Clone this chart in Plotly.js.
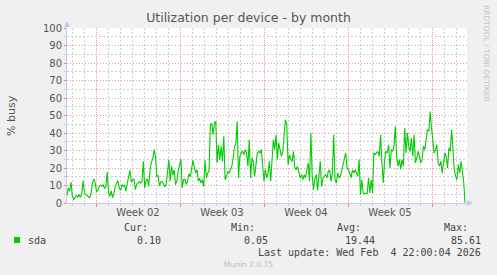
<!DOCTYPE html>
<html>
<head>
<meta charset="utf-8">
<script src="https://cdn.plot.ly/plotly-3.0.1.min.js"></script>
<style>
  html, body { margin: 0; padding: 0; background: #f0f0f0; }
  #chart { width: 497px; height: 275px; }
</style>
</head>
<body>
<div id="chart"></div>
<script>
// ---- data ----
const graphStart = '2026-01-02 14:00:00';
const graphEnd = '2026-02-04 22:00:00';
const stepHours = 796 / 297;
const busy = [
  4.2, 8.6, 6.7, 12.0, 3.8, 1.9, 3.2, 4.2, 3.4, 4.8, 3.2, 5.0, 12.8, 5.7, 4.8, 4.2, 3.6, 3.0, 5.7, 11.4,
  13.7, 11.8, 6.7, 7.2, 9.5, 10.1, 9.5, 10.5, 8.2, 9.5, 17.7, 6.1, 3.8, 7.0, 3.0, 5.3, 9.5, 11.4, 12.8, 8.6,
  7.2, 10.5, 9.5, 10.3, 6.7, 11.4, 15.2, 18.7, 11.8, 13.3, 13.7, 7.6, 10.7, 11.8, 12.2, 11.4, 12.4, 23.8, 8.6, 13.0,
  13.7, 9.5, 19.4, 23.2, 25.1, 30.5, 26.7, 15.2, 15.6, 9.7, 12.2, 12.4, 11.0, 9.5, 10.5, 17.3, 24.8, 12.4, 21.0, 16.0,
  19.0, 10.5, 12.8, 18.1, 21.0, 25.1, 8.6, 13.3, 13.7, 10.5, 12.6, 16.8, 14.9, 19.0, 24.4, 20.6, 17.1, 19.0, 12.4, 14.1,
  11.4, 13.3, 9.5, 24.4, 14.3, 17.1, 18.1, 44.8, 45.3, 39.0, 45.7, 46.7, 22.9, 33.3, 24.8, 32.4, 23.8, 38.1, 13.3, 15.2,
  18.1, 17.1, 19.4, 21.0, 25.7, 32.4, 33.9, 46.7, 14.3, 26.7, 28.6, 29.5, 27.6, 30.5, 28.6, 21.0,
  36.2, 14.3, 25.7, 23.8, 15.2, 21.0, 28.6, 29.5, 28.6, 30.5, 22.9, 12.4, 19.0, 14.3, 17.1, 23.8, 12.4, 25.7, 36.2, 30.5,
  39.0, 24.8, 34.3, 30.5, 26.7, 29.5, 40.0, 47.6, 44.8, 21.9, 27.6, 24.8, 23.8, 29.5, 20.0, 19.0, 21.0, 17.1, 14.3, 16.2,
  13.3, 16.2, 14.3, 19.0, 22.9, 12.4, 40.0, 15.2, 7.6, 14.3, 16.2, 7.2, 13.7, 23.8, 9.5, 14.3, 15.2, 16.2, 14.3, 18.1,
  19.0, 12.4, 17.1, 39.0, 13.3, 11.4, 17.1, 14.3, 15.2, 19.0, 22.9, 26.7, 28.6, 20.0, 19.0, 17.1, 14.3, 19.0, 17.1, 19.0,
  17.1, 15.2, 24.8, 4.8, 13.3, 5.7, 5.3, 5.7, 5.3, 14.3, 5.7, 13.3, 5.7, 28.6, 27.6, 28.6, 29.5, 26.7, 39.0, 22.9,
  11.4, 24.8, 29.5, 28.6, 33.3, 20.0, 30.5, 29.5, 32.4, 43.8, 26.7, 21.0, 24.8, 19.4, 24.8, 21.0, 42.9, 28.6, 40.0, 32.4,
  29.5, 37.1, 26.7, 39.0, 22.9, 25.7, 29.5, 26.7, 22.9, 24.8, 32.4, 30.5, 36.2, 41.9, 41.0, 52.2, 42.9, 36.2, 28.6, 30.5,
  33.3, 22.9, 21.0, 23.8, 17.1, 22.9, 28.6, 26.7, 20.0, 31.4, 29.5, 41.9, 26.7, 19.0, 15.2, 13.3, 21.9, 17.1, 23.8, 19.0,
  12.4, 0.1
];
const weekStarts = ['2026-01-05', '2026-01-12', '2026-01-19', '2026-01-26', '2026-02-02'];
const weekLabels = ['Week 02', 'Week 03', 'Week 04', 'Week 05'];
const seriesName = 'sda';
const statLabels = ['Cur:', 'Min:', 'Avg:', 'Max:'];
const statValues = ['0.10', '0.05', '19.44', '85.61'];
const lastUpdate = 'Last update: Wed Feb  4 22:00:04 2026';
const version = 'Munin 2.0.75';

// ---- helpers ----
const toMs = s => Date.parse(s.replace(' ', 'T') + (s.length <= 10 ? 'T00:00:00Z' : 'Z'));
const fmt = ms => new Date(ms).toISOString().slice(0, 19).replace('T', ' ');
const DAY = 86400000;
const startMs = toMs(graphStart), endMs = toMs(graphEnd);
const times = busy.map((_, i) => fmt(startMs + i * stepHours * 3600000));
const weekMids = weekLabels.map((_, i) => fmt((toMs(weekStarts[i]) + toMs(weekStarts[i + 1])) / 2));
const weekMs = weekStarts.map(toMs);
const dayLines = [];
for (let d = Math.ceil(startMs / DAY) * DAY; d <= endMs; d += DAY) {
  if (!weekMs.includes(d)) dayLines.push(fmt(d));
}

const W = 497, H = 275, L = 67, R = 467, T = 28, B = 203;
const px = x => (x - L) / (R - L);
const py = y => (B - y) / (B - T);

const mono = {family: 'DejaVu Sans Mono', size: 10, color: '#444'};
const ann = (text, x, y, xanchor) => ({text, x: px(x), y: py(y), xref: 'paper', yref: 'paper',
  xanchor, yanchor: 'middle', showarrow: false, font: mono});

const annotations = [
  ann(seriesName, 26, 240, 'left'),
];
const statX = [150, 257, 363, 470];
const valX = [163, 270, 377, 483];
statLabels.forEach((s, i) => annotations.push(ann(s, statX[i], 227, 'right')));
statValues.forEach((s, i) => annotations.push(ann(s, valX[i], 240, 'right')));
annotations.push(ann(lastUpdate, 483, 252, 'right'));
annotations.push({text: version, x: px(248), y: py(264), xref: 'paper', yref: 'paper',
  xanchor: 'center', yanchor: 'middle', showarrow: false,
  font: {family: 'DejaVu Sans', size: 7.5, color: '#bdbdbd'}});
annotations.push({text: 'RRDTOOL / TOBI OETIKER', x: px(487), y: py(53), xref: 'paper', yref: 'paper',
  xanchor: 'center', yanchor: 'middle', showarrow: false, textangle: 90,
  font: {family: 'DejaVu Sans', size: 7.5, color: '#c4c4c4'}});
annotations.push({text: '% busy', x: px(11), y: py(115), xref: 'paper', yref: 'paper',
  xanchor: 'center', yanchor: 'middle', showarrow: false, textangle: -90,
  font: {family: 'DejaVu Sans', size: 11, color: '#555'}});

const axisCol = '#c6c6f2';
const shapes = [
  {type: 'rect', xref: 'paper', yref: 'paper', x0: px(14), x1: px(20), y0: py(243), y1: py(237),
   fillcolor: '#00cc00', line: {width: 0}},
  {type: 'path', xref: 'paper', yref: 'paper',
   path: `M ${px(64)} ${py(27)} L ${px(70)} ${py(27)} L ${px(67)} ${py(21)} Z`,
   fillcolor: axisCol, line: {width: 0}},
  {type: 'path', xref: 'paper', yref: 'paper',
   path: `M ${px(467)} ${py(200)} L ${px(467)} ${py(206)} L ${px(473)} ${py(203)} Z`,
   fillcolor: axisCol, line: {width: 0}}
];

const data = [
  {x: times, y: busy, type: 'scatter', mode: 'lines', name: seriesName,
   line: {color: '#00cc00', width: 1.1}, hoverinfo: 'skip'},
  {x: [], y: [], xaxis: 'x2', yaxis: 'y', type: 'scatter', mode: 'lines', showlegend: false}
];

const majorCol = '#ee9a9a', minorCol = '#cfcfcf';

const layout = {
  width: W, height: H,
  margin: {l: L, r: W - R, t: T, b: H - B, pad: 0},
  paper_bgcolor: '#f0f0f0', plot_bgcolor: '#ffffff',
  showlegend: false,
  title: {text: 'Utilization per device - by month', x: 0.5, xref: 'container', xanchor: 'center',
          y: 1 - 18 / H, yref: 'container', yanchor: 'middle',
          font: {family: 'DejaVu Sans', size: 12.5, color: '#555'}},
  xaxis: {
    type: 'date', range: [graphStart, graphEnd], fixedrange: true,
    tickmode: 'array', tickvals: weekMids, ticktext: weekLabels,
    ticks: '', showgrid: false, zeroline: false,
    tickfont: {family: 'DejaVu Sans', size: 10, color: '#555'},
    showline: true, linecolor: axisCol, linewidth: 1,
    minor: {tickmode: 'array', tickvals: dayLines, showgrid: true,
            gridcolor: minorCol, griddash: '2px,2px', gridwidth: 1,
            ticks: 'outside', ticklen: 2, tickcolor: '#c8c8c8'}
  },
  xaxis2: {
    type: 'date', range: [graphStart, graphEnd], overlaying: 'x', anchor: 'y', side: 'bottom',
    tickmode: 'array', tickvals: weekStarts, showticklabels: false,
    ticks: 'outside', ticklen: 3, tickcolor: '#f08080',
    showgrid: true, gridcolor: majorCol, griddash: '1px,1px', gridwidth: 1, zeroline: false
  },
  yaxis: {
    range: [0, 100], fixedrange: true, tickmode: 'linear', tick0: 0, dtick: 10,
    showgrid: true, gridcolor: majorCol, griddash: '1px,2px', gridwidth: 1, zeroline: false,
    ticks: 'outside', ticklen: 2, tickcolor: '#f08080',
    tickfont: {family: 'DejaVu Sans', size: 10, color: '#555'},
    showline: true, linecolor: axisCol, linewidth: 1,
    minor: {tickmode: 'linear', tick0: 5, dtick: 10, showgrid: true,
            gridcolor: minorCol, griddash: '2px,2px', gridwidth: 1,
            ticks: 'outside', ticklen: 2, tickcolor: '#c8c8c8'}
  },
  annotations, shapes
};

Plotly.newPlot('chart', data, layout, {staticPlot: true, displayModeBar: false});
</script>
</body>
</html>
